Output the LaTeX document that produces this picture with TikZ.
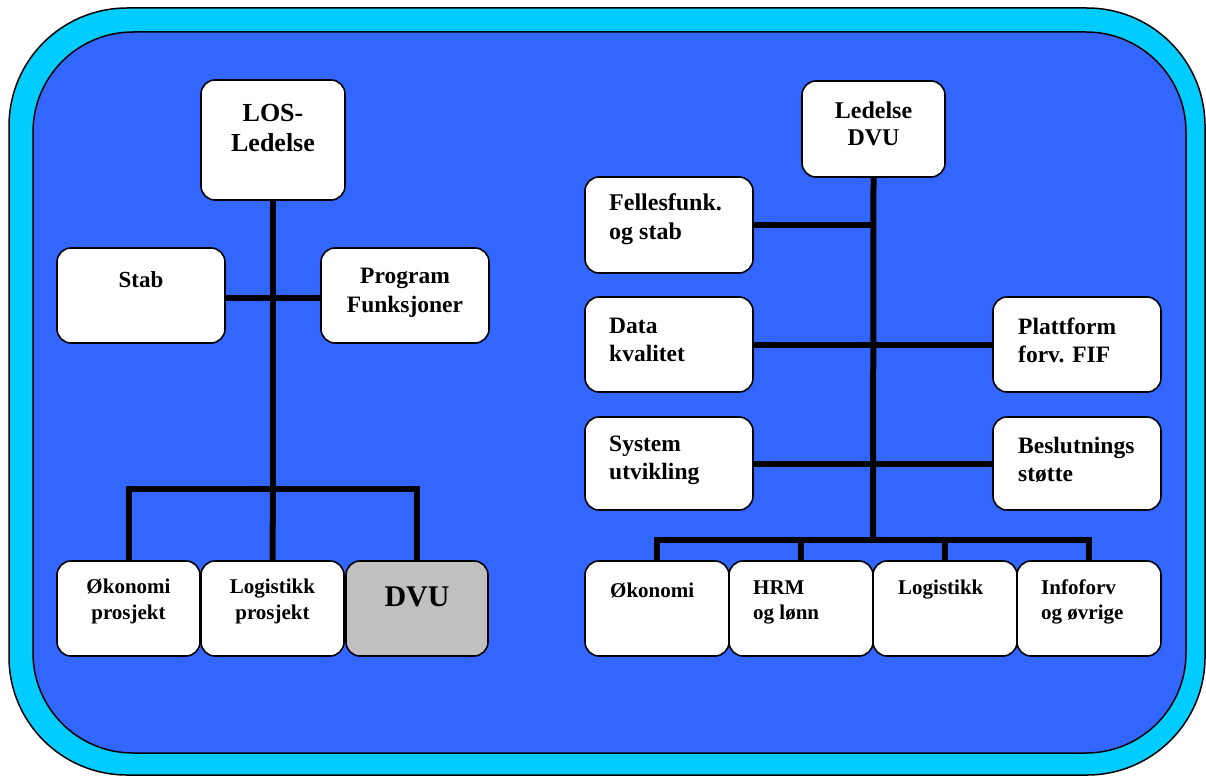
\documentclass[tikz,border=0pt]{standalone}
\usepackage{fontspec}
\setmainfont{Liberation Serif}
\definecolor{frameCyan}{HTML}{00CCFF}
\definecolor{panelBlue}{HTML}{3366FF}
\definecolor{unitGray}{HTML}{C0C0C0}
\tikzset{
  box/.style={draw=black, line width=1.6pt, rounded corners=14pt, fill=white, inner sep=0pt},
  conn/.style={draw=black, line width=6pt, line join=miter},
  lbl/.style={inner sep=0pt, font=\bfseries},
  pt/.style 2 args={font=\bfseries\fontsize{#1}{#2}\selectfont},
}
\begin{document}
\begin{tikzpicture}[x=1pt, y=-1pt]
\useasboundingbox (0,0) rectangle (1206,776);

% frame and panel
\draw[fill=frameCyan, line width=1.5pt, rounded corners=118pt] (9,8) rectangle (1205,775);
\draw[fill=panelBlue, line width=1.5pt, rounded corners=100pt] (33,32) rectangle (1186,753);

% ---------- left organisation ----------
\coordinate (lhub) at (273,298);
\coordinate (lbus) at (273,489);

\node[box, minimum width=144pt, minimum height=120pt] (los)  at (273,140) {};
\node[box, minimum width=168pt, minimum height=95pt]  (stab) at (141,295.5) {};
\node[box, minimum width=168pt, minimum height=95pt]  (prog) at (405,295.5) {};
\node[box, minimum width=143pt, minimum height=95pt]  (ekop) at (128.5,608.5) {};
\node[box, minimum width=143pt, minimum height=95pt]  (logp) at (272.5,608.5) {};
\node[box, fill=unitGray, minimum width=142pt, minimum height=95pt] (dvu) at (417,608.5) {};

\draw[conn] (los.south) -- (lbus);
\draw[conn] (stab.east |- lhub) -- (prog.west |- lhub);
\draw[conn] (ekop.north) |- (lbus) -| (dvu.north);
\draw[conn] (logp.north) -- (lbus);

\node[lbl, pt={26}{30}, align=center] (los-t) at (273,128) {LOS-\\Ledelse};
\node[lbl, pt={23}{29}] (stab-t) at (141,280) {Stab};
\node[lbl, pt={23.5}{29}, align=center] (prog-t) at (405,292.5) {Program\\Funksjoner};
\node[lbl, pt={21}{26}, align=center] (ekop-t) at (128.5,601) {Økonomi\\prosjekt};
\node[lbl, pt={21}{26}, align=center] (logp-t) at (272.5,601) {Logistikk\\prosjekt};
\node[lbl, pt={30}{34}] (dvu-t) at (417,597) {DVU};

% ---------- right organisation ----------
\coordinate (rbus) at (873,540);

\node[box, minimum width=143pt, minimum height=96pt] (led)  at (873.5,129) {};
\node[box, minimum width=168pt, minimum height=96pt] (fell) at (669,225) {};
\node[box, minimum width=168pt, minimum height=95pt] (data) at (669,344.5) {};
\node[box, minimum width=168pt, minimum height=95pt] (plat) at (1077,344.5) {};
\node[box, minimum width=168pt, minimum height=93pt] (sys)  at (669,463.5) {};
\node[box, minimum width=168pt, minimum height=93pt] (besl) at (1077,463.5) {};
\node[box, minimum width=144pt, minimum height=95pt] (eko)  at (657,608.5) {};
\node[box, minimum width=144pt, minimum height=95pt] (hrm)  at (801,608.5) {};
\node[box, minimum width=144pt, minimum height=95pt] (logi) at (945,608.5) {};
\node[box, minimum width=144pt, minimum height=95pt] (info) at (1089,608.5) {};

\draw[conn] (led.south) -- (rbus);
\draw[conn] (fell.east) -- (fell.east -| rbus);
\draw[conn] (data.east) -- (plat.west);
\draw[conn] (sys.east) -- (besl.west);
\draw[conn] (eko.north) |- (rbus) -| (info.north);
\draw[conn] (hrm.north) -- (hrm.north |- rbus);
\draw[conn] (logi.north) -- (logi.north |- rbus);

\node[lbl, pt={24}{27}, align=center] (led-t) at (873.5,123.5) {Ledelse\\DVU};
\node[lbl, pt={24}{29}, align=left, anchor=west] (fell-t) at (609,219.5) {Fellesfunk.\\og stab};
\node[lbl, pt={23.5}{28}, align=left, anchor=west] (data-t) at (609,340) {Data\\kvalitet};
\node[lbl, pt={23.5}{28}, align=left, anchor=west] (plat-t) at (1018,340) {Plattform\\forv. FIF};
\node[lbl, pt={23.5}{28}, align=left, anchor=west] (sys-t)  at (609,460) {System\\utvikling};
\node[lbl, pt={23.5}{28}, align=left, anchor=west] (besl-t) at (1018,460) {Beslutnings\\støtte};
\node[lbl, pt={21}{25}, anchor=west] (eko-t) at (610,590) {Økonomi};
\node[lbl, pt={21}{25}, align=left, anchor=west] (hrm-t) at (753,602) {HRM\\og lønn};
\node[lbl, pt={21}{25}, anchor=west] (logi-t) at (898,590) {Logistikk};
\node[lbl, pt={21}{25}, align=left, anchor=west] (info-t) at (1041,602) {Infoforv\\og øvrige};
\end{tikzpicture}
\end{document}
